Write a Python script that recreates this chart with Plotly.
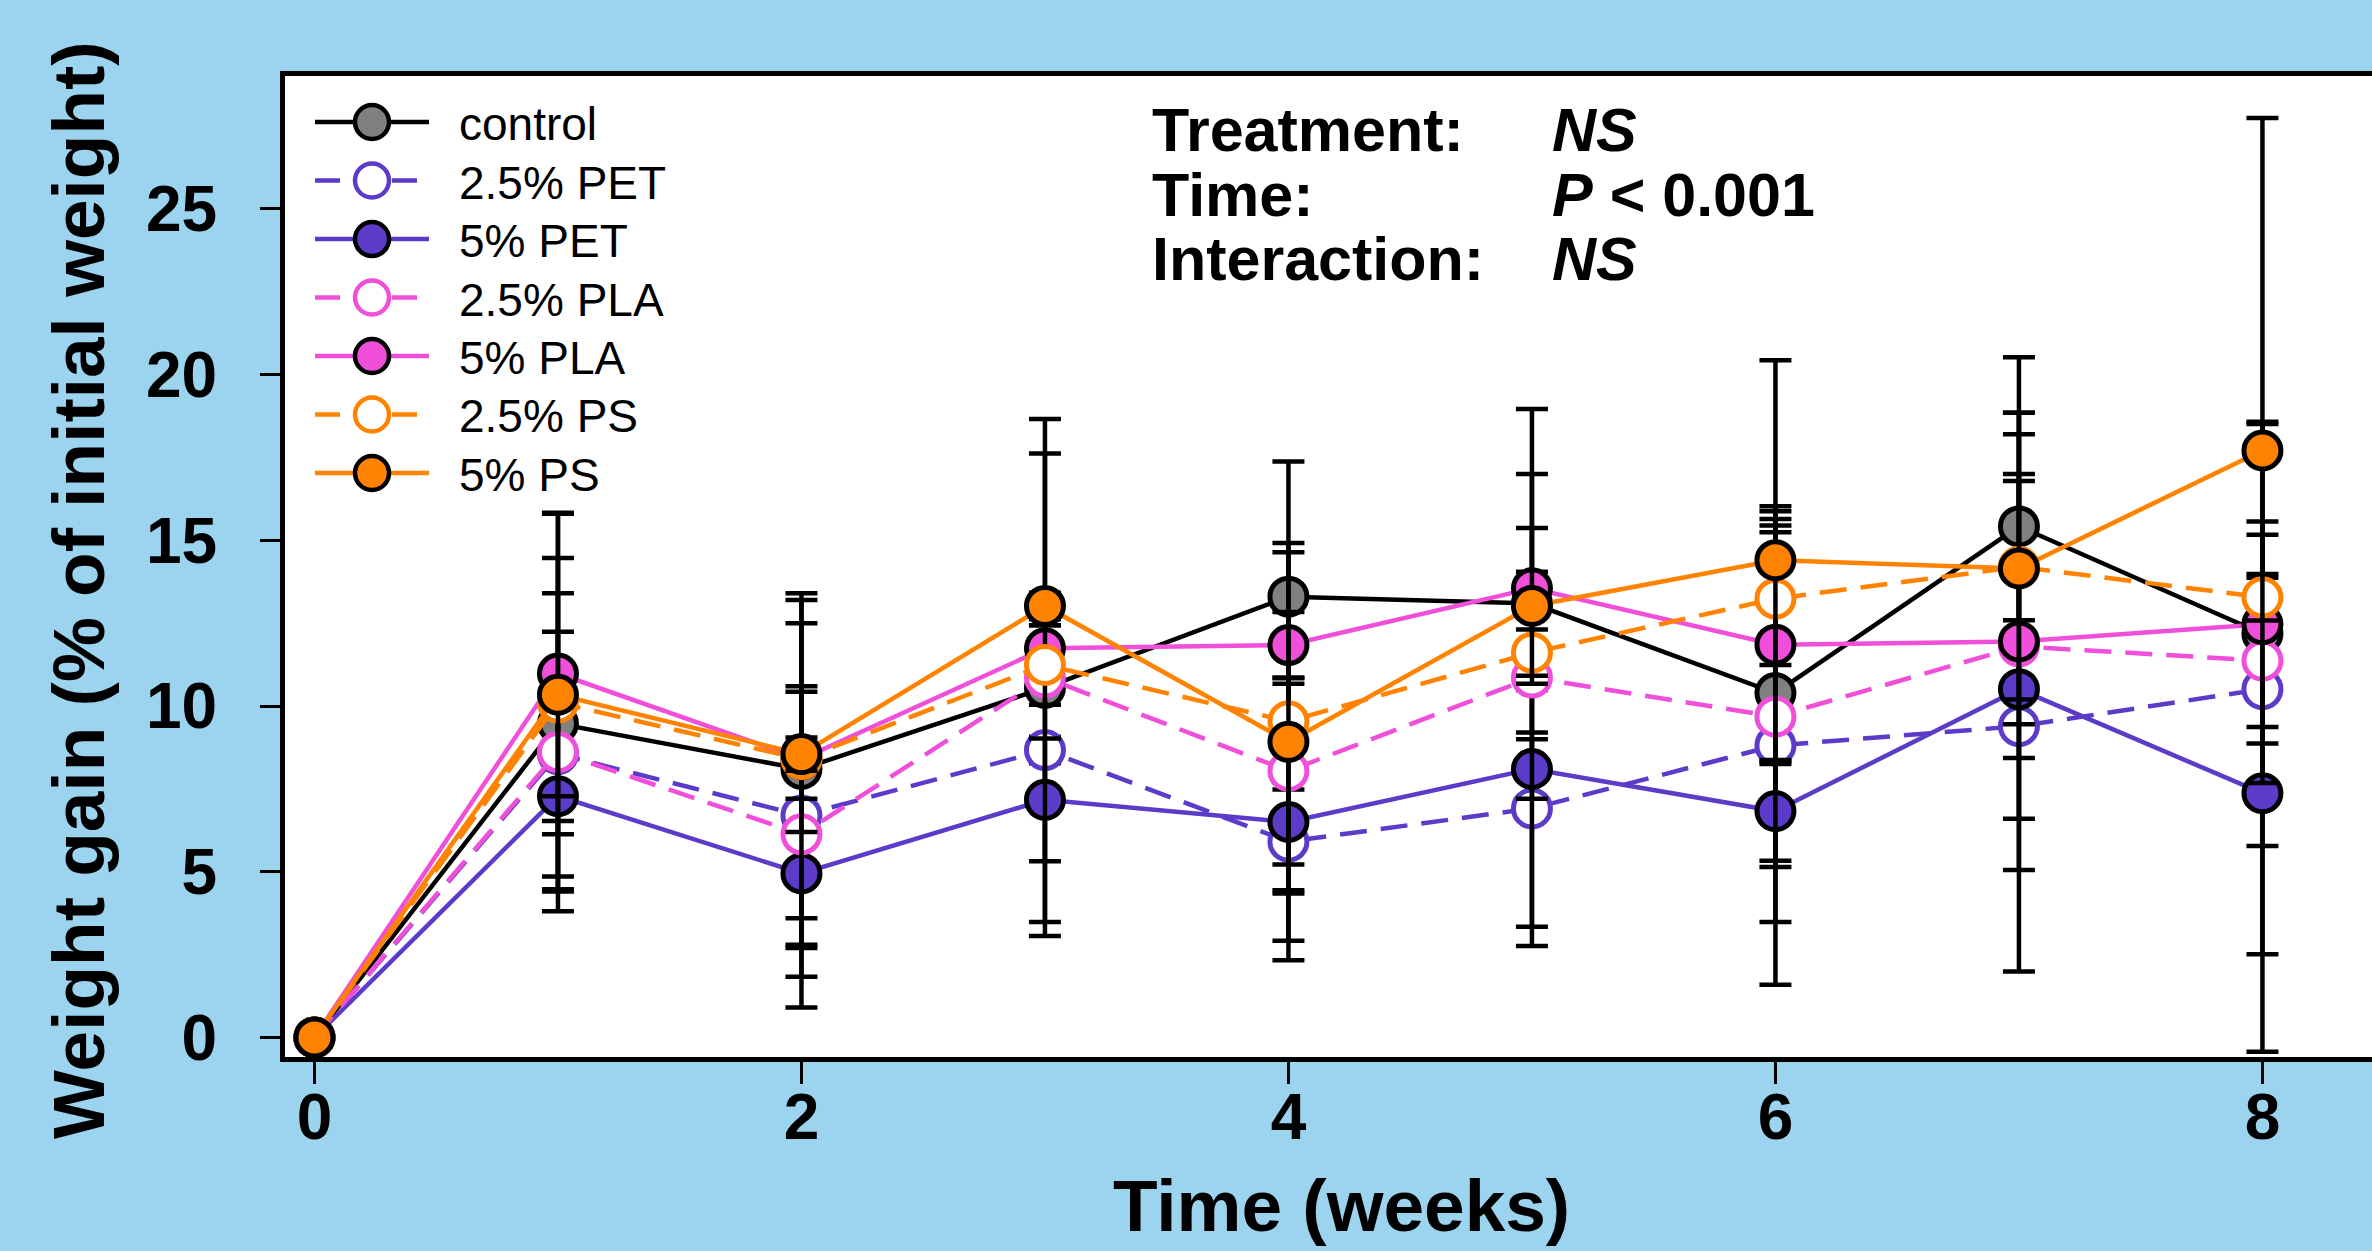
import plotly.graph_objects as go

# ---------------- data ----------------
weeks = [0, 1, 2, 3, 4, 5, 6, 7, 8]

control = [0, 9.47, 8.1, 10.55, 13.3, 13.1, 10.39, 15.42, 12.18]
control_err = [0, 5.0, 5.3, 7.07, 4.08, 3.9, 5.25, 5.1, 6.4]

pet25 = [0, 8.55, 6.7, 8.67, 5.91, 6.91, 8.81, 9.39, 10.51]
pet25_err = [0, 3.69, 5.8, 0.4, 1.57, 3.57, 7.22, 7.4, 8.0]

pet5 = [0, 7.28, 4.95, 7.17, 6.5, 8.1, 6.83, 10.51, 7.37]
pet5_err = [0, 3.47, 2.25, 1.85, 4.17, 0.9, 1.5, 2.08, 7.8]

pla25 = [0, 8.61, 6.13, 10.86, 8.04, 10.86, 9.68, 11.8, 11.37]
pla25_err = [0, 2.08, 4.3, 7.8, 2.82, 8.1, 6.2, 5.2, 2.5]

pla5 = [0, 10.98, 8.4, 11.74, 11.84, 13.55, 11.85, 11.95, 12.47]
pla5_err = [0, 4.85, 2.2, 0.7, 1.0, 0.5, 3.6, 6.9, 3.1]

ps25 = [0, 10.1, 8.4, 11.24, 9.54, 11.61, 13.24, 14.2, 13.28]
ps25_err = [0, 5.7, 4.8, 1.2, 5.1, 0.7, 2.0, 4.0, 0.7]

ps5 = [0, 10.34, 8.55, 13.02, 8.92, 13.02, 14.4, 14.15, 17.71]
ps5_err = [0, 3.06, 0.5, 0.4, 6.0, 2.35, 6.03, 4.7, 10.03]

series_names = ["control", "2.5% PET", "5% PET", "2.5% PLA", "5% PLA", "2.5% PS", "5% PS"]
x_ticks = [0, 2, 4, 6, 8]
y_ticks = [0, 5, 10, 15, 20, 25]
stats_labels = ["Treatment:", "Time:", "Interaction:"]
stats_values = ["<i>NS</i>", "<i>P</i> &lt; 0.001", "<i>NS</i>"]

# ---------------- styles ----------------
PURPLE = "#5C3BC8"
PINK = "#F04FDA"
ORANGE = "#FF8300"
GREY = "#808080"
BG = "#9CD3EE"
FONT = "Liberation Sans"

series_values = [control, pet25, pet5, pla25, pla5, ps25, ps5]
series_errs = [control_err, pet25_err, pet5_err, pla25_err, pla5_err, ps25_err, ps5_err]
# (line colour, dash, marker fill, marker border)
styles = [
    ("black", "solid", GREY, "black"),
    (PURPLE, "dash", "white", PURPLE),
    (PURPLE, "solid", PURPLE, "black"),
    (PINK, "dash", "white", PINK),
    (PINK, "solid", PINK, "black"),
    (ORANGE, "dash", "white", ORANGE),
    (ORANGE, "solid", ORANGE, "black"),
]

W, H = 2372, 1251
L, R, T, B = 285, 0, 76, 194
PW = W - L - R
PH = H - T - B


def px_x(px):
    return (px - L) / PW


def px_y(py):
    return (H - B - py) / PH


fig = go.Figure()

for name, vals, errs, (lc, dash, fill, border) in zip(series_names, series_values, series_errs, styles):
    fig.add_trace(go.Scatter(
        x=weeks, y=vals, name=name, mode="lines+markers",
        line=dict(color=lc, width=4.5, dash="27px,14px" if dash == "dash" else "solid"),
        marker=dict(size=37, color=fill, line=dict(color=border, width=5)),
        error_y=dict(type="data", array=errs, symmetric=True, color="black",
                     thickness=4.5, width=16),
        showlegend=False, cliponaxis=False,
    ))

# ---------------- custom legend ----------------
shapes = []
annotations = []
row0, drow = 122, 58.5
for i, (name, (lc, dash, fill, border)) in enumerate(zip(series_names, styles)):
    yc = row0 + drow * i
    if dash == "dash":
        segs = [(315, 340), (392, 417)]
    else:
        segs = [(315, 429)]
    for a, b in segs:
        shapes.append(dict(type="line", xref="paper", yref="paper",
                           x0=px_x(a), x1=px_x(b), y0=px_y(yc), y1=px_y(yc),
                           line=dict(color=lc, width=4.5), layer="above"))
    shapes.append(dict(type="circle", xref="paper", yref="paper",
                       xsizemode="pixel", ysizemode="pixel",
                       xanchor=px_x(372), yanchor=px_y(yc),
                       x0=-17, x1=17, y0=-17, y1=17,
                       fillcolor=fill, line=dict(color=border, width=4.5), layer="above"))
    annotations.append(dict(text=name, xref="paper", yref="paper",
                            x=px_x(457), y=px_y(yc + 2), xanchor="left", yanchor="middle",
                            showarrow=False, font=dict(family=FONT, size=46, color="black")))

# ---------------- statistics text ----------------
stat_rows = [130, 195, 259]
for lab, val, yc in zip(stats_labels, stats_values, stat_rows):
    annotations.append(dict(text=lab, xref="paper", yref="paper",
                            x=px_x(1150), y=px_y(yc), xanchor="left", yanchor="middle",
                            showarrow=False,
                            font=dict(family=FONT, size=61, color="black", weight="bold")))
    annotations.append(dict(text=val, xref="paper", yref="paper",
                            x=px_x(1550), y=px_y(yc), xanchor="left", yanchor="middle",
                            showarrow=False,
                            font=dict(family=FONT, size=61, color="black", weight="bold")))

# axis titles
annotations.append(dict(text="Weight gain (% of initial weight)", xref="paper", yref="paper",
                        x=px_x(78), y=px_y(590), xanchor="center", yanchor="middle",
                        textangle=-90, showarrow=False,
                        font=dict(family=FONT, size=73, color="black", weight="bold")))
annotations.append(dict(text="Time (weeks)", xref="paper", yref="paper",
                        x=px_x(1341), y=px_y(1205), xanchor="center", yanchor="middle",
                        showarrow=False,
                        font=dict(family=FONT, size=73, color="black", weight="bold")))

fig.update_layout(
    width=W, height=H,
    margin=dict(l=L, r=R, t=T, b=B, pad=0),
    paper_bgcolor=BG, plot_bgcolor="white",
    shapes=shapes, annotations=annotations,
    showlegend=False,
    xaxis=dict(range=[-0.121, 8.45], tickvals=x_ticks, ticktext=[str(v) for v in x_ticks],
               showgrid=False, zeroline=False, showline=True, linecolor="black", linewidth=5,
               mirror=True, ticks="outside", ticklen=22, tickwidth=3, tickcolor="black",
               ticklabelstandoff=-22,
               tickfont=dict(family=FONT, size=64, color="black", weight="bold")),
    yaxis=dict(range=[-0.59, 29.01], tickvals=y_ticks, ticktext=[str(v) for v in y_ticks],
               showgrid=False, zeroline=False, showline=True, linecolor="black", linewidth=5,
               ticks="outside", ticklen=20, tickwidth=3, tickcolor="black",
               ticklabelstandoff=30,
               tickfont=dict(family=FONT, size=64, color="black", weight="bold")),
)

fig.write_html(
    "out.html",
    config={"displayModeBar": False},
    post_script="document.body.style.margin='0';document.body.style.overflow='hidden';",
)
